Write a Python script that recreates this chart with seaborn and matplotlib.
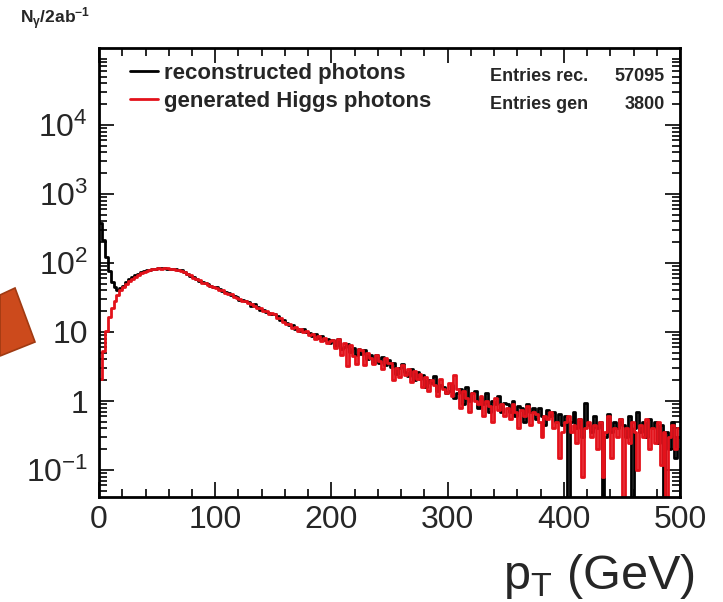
import numpy as np
import pandas as pd
import matplotlib
matplotlib.use("Agg")
import matplotlib.pyplot as plt
from matplotlib.patches import Polygon
from matplotlib.ticker import MultipleLocator, LogLocator, FuncFormatter, NullFormatter
import seaborn as sns

# 2.5 GeV bins from 0 to 500 GeV
bin_width = 2.5
pt_range = (0, 500)

# reconstructed photons (black)
rec_counts = [
    380, 215, 122, 76, 53, 45, 41, 43, 47, 53,
    58, 62, 66, 70, 73, 76, 78, 80, 82, 83,
    84, 84, 85, 83, 83, 82, 81, 80, 78, 75,
    69, 65, 62, 59, 55, 53, 51, 49, 46, 45,
    45, 42, 39, 38, 37, 34, 33, 32, 29, 29,
    28, 27, 24, 25, 23, 21, 21, 19.5, 19, 18,
    18.5, 17, 15, 15, 13.5, 12.5, 12.5, 11, 11, 10.5,
    11, 10, 9.6, 8.8, 9.2, 8.2, 8.6, 7.6, 7.8, 7.0,
    7.6, 6.2, 7.9, 5.6, 6.0, 6.6, 5.2, 5.8, 4.6, 5.6,
    4.8, 5.4, 4.0, 4.6, 3.6, 4.6, 3.5, 4.3, 3.3, 3.9,
    3.1, 3.6, 2.5, 3.0, 3.4, 2.6, 2.3, 2.9, 2.0, 2.6,
    2.1, 2.4, 1.6, 2.0, 1.8, 2.3, 1.4, 1.7, 1.6, 1.3,
    1.4, 1.7, 1.1, 1.3, 1.5, 0.9, 1.6, 1.0, 1.3, 1.4,
    0.8, 1.1, 0.9, 1.3, 0.7, 1.0, 0.9, 1.2, 0.7, 0.95,
    0.9, 0.7, 1.0, 0.6, 0.85, 0.8, 0.5, 0.9, 0.7, 0.8,
    0.55, 0.8, 0.6, 0.45, 0.75, 0.6, 0.7, 0.5, 0.65, 0.45,
    0.6, 0, 0.5, 0.7, 0.4, 0.55, 0.3, 0.95, 0.45, 0.35,
    0.6, 0.4, 0.5, 0, 0.3, 0.65, 0.35, 0.5, 0.4, 0.55,
    0.45, 0.3, 0.6, 0, 0.4, 0.7, 0.35, 0.5, 0.3, 0.55,
    0.4, 0.5, 0.25, 0.45, 0, 0.35, 0.2, 0.5, 0.15, 0.3,
]

# generated Higgs photons (red)
gen_counts = [
    2.1, 5.3, 10.5, 16.5, 22.5, 28.5, 34, 40, 45, 50,
    55, 59, 63, 67, 71, 74, 77, 79, 81, 83,
    84, 83, 85, 84, 82, 83, 80, 78, 76, 74,
    68, 66, 61, 58, 56, 52, 51, 48, 47, 45,
    44, 41, 40, 37, 36, 35, 32, 31, 30, 28,
    28, 26, 25, 24, 22, 22, 20, 20, 18, 19,
    18, 16, 16, 14, 13, 13, 11.5, 12, 10.5, 11,
    10, 10.5, 9, 9.4, 8, 8.8, 7.5, 8.2, 7, 7.4,
    7.6, 5.8, 7.8, 4.6, 6.9, 3.2, 6.4, 4.5, 3.4, 5.6,
    5.4, 3.3, 5.0, 4.2, 3.4, 4.6, 3.8, 2.9, 4.2, 3.6,
    3.6, 2.0, 3.0, 2.2, 3.3, 2.4, 2.9, 1.9, 2.7, 2.1,
    2.5, 1.6, 2.2, 1.4, 2.0, 1.7, 1.2, 2.1, 1.5, 1.3,
    1.8, 1.2, 2.4, 1.5, 0.8, 1.4, 1.1, 0.7, 1.3, 1.0,
    0.9, 1.2, 0.6, 1.0, 0.85, 0.5, 1.1, 0.75, 0.9, 0.6,
    0.8, 0.55, 0.9, 0.7, 0.4, 0.75, 0.6, 0.85, 0.45, 0.7,
    0.65, 0.5, 0.3, 0.6, 0.55, 0.7, 0.4, 0.5, 0.15, 0.35,
    0.5, 0.6, 0.35, 0.45, 0.25, 0.55, 0.08, 0.4, 0.5, 0.3,
    0.45, 0.2, 0.5, 0.08, 0.35, 0.6, 0.15, 0.4, 0.3, 0.55,
    0, 0.4, 0.25, 0.5, 0.35, 0.1, 0.45, 0.3, 0.55, 0.2,
    0.4, 0.25, 0.5, 0.12, 0.35, 0, 0.3, 0.45, 0.2, 0.4,
]

rec_label = 'reconstructed photons'
gen_label = 'generated Higgs photons'
entry_names = ['Entries rec.', 'Entries gen']
entry_values = ['57095', '3800']
x_ticks = [0, 100, 200, 300, 400, 500]
y_ticks = [0.1, 1, 10, 100, 1000, 10000]

sns.set_style('ticks')
plt.rcParams['font.family'] = ['Liberation Sans', 'DejaVu Sans']
plt.rcParams['mathtext.fontset'] = 'custom'
plt.rcParams['mathtext.rm'] = 'Liberation Sans'
plt.rcParams['mathtext.it'] = 'Liberation Sans:italic'
plt.rcParams['mathtext.bf'] = 'Liberation Sans:bold'

centers = np.arange(len(rec_counts)) * bin_width + bin_width / 2
df_rec = pd.DataFrame({'pt': centers, 'w': rec_counts})
df_gen = pd.DataFrame({'pt': centers, 'w': gen_counts})

fig = plt.figure(figsize=(7.23, 6.02), dpi=100)
ax = fig.add_axes([0.137, 0.1744, 0.8035, 0.7456])

sns.histplot(data=df_rec, x='pt', weights='w', binwidth=bin_width, binrange=pt_range,
             element='step', fill=False, color='black', linewidth=2.0, ax=ax, label=rec_label)
sns.histplot(data=df_gen, x='pt', weights='w', binwidth=bin_width, binrange=pt_range,
             element='step', fill=False, color='#e3121b', linewidth=2.0, ax=ax, label=gen_label)

ax.set_yscale('log')
ax.set_xlim(0, 500)
ax.set_ylim(0.0407, 1.29e5)
ax.set_xlabel('')
ax.set_ylabel('')

ax.set_xticks(x_ticks)
ax.xaxis.set_minor_locator(MultipleLocator(20))
ax.set_yticks(y_ticks)
ax.yaxis.set_minor_locator(LogLocator(base=10, subs=np.arange(2, 10)))
ax.yaxis.set_minor_formatter(NullFormatter())

def ylab(v, pos):
    if v == 10:
        return '10'
    if v == 1:
        return '1'
    return r'$\mathregular{10^{%d}}$' % round(np.log10(v))

ax.yaxis.set_major_formatter(FuncFormatter(ylab))
ax.tick_params(which='both', direction='in', top=True, right=True, width=1.4, labelsize=23)
ax.tick_params(which='major', length=11)
ax.tick_params(which='minor', length=5.5)
ax.tick_params(axis='x', pad=6)
ax.tick_params(axis='y', pad=8)
for s in ax.spines.values():
    s.set_linewidth(2)
    s.set_color('black')

ax.legend(loc='upper left', bbox_to_anchor=(0.053, 0.968), frameon=False,
          prop={'weight': 'bold', 'size': 16}, handlelength=1.25, handletextpad=0.3,
          labelspacing=0.32, borderpad=0, borderaxespad=0)

for i, (name, val) in enumerate(zip(entry_names, entry_values)):
    yy = 0.9376 - i * 0.0625
    ax.text(0.673, yy, name, transform=ax.transAxes, ha='left', va='center',
            fontsize=13, fontweight='bold')
    ax.text(0.974, yy, val, transform=ax.transAxes, ha='right', va='center',
            fontsize=13, fontweight='bold')

fig.text(20 / 723, 1 - 19 / 602, r'$\mathbf{N_{\gamma}/2ab^{-1}}$', ha='left', va='center', fontsize=12.5)
fig.text(0.961, 0.022, r'$\mathregular{p_{T}}$ (GeV)', ha='right', va='baseline', fontsize=35)

# orange arrow fragment on the left edge
pts = [(0, 295), (15, 288), (35, 342), (0, 356)]
poly = Polygon([(x / 723, 1 - y / 602) for x, y in pts], closed=True, transform=fig.transFigure,
               facecolor='#cc4a1c', edgecolor='#a03a12', linewidth=1.2)
fig.patches.append(poly)

fig.savefig('out.png', dpi=100)
